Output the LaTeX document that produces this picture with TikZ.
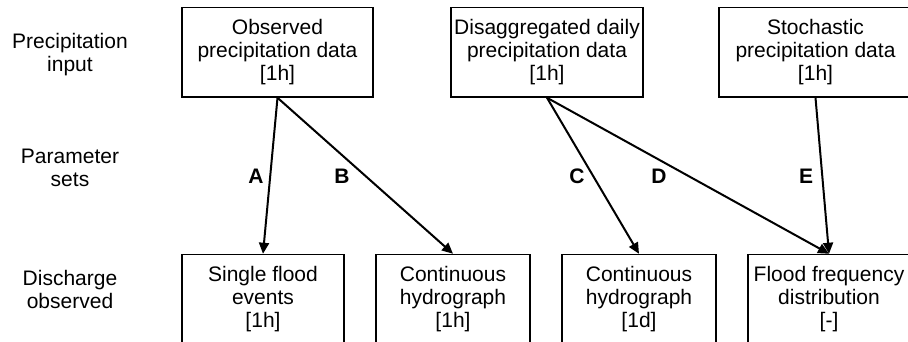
\documentclass[tikz,border=0pt]{standalone}
\usepackage{fontspec}
\setmainfont{Liberation Sans}
\usetikzlibrary{arrows.meta}
\begin{document}
\begin{tikzpicture}[x=1pt,y=-1pt,
  every node/.style={font=\fontsize{21}{23}\selectfont, align=center},
  box/.style={draw, line width=1.5pt, inner sep=0pt, minimum height=89.5pt},
  arr/.style={line width=2pt, -{Triangle[length=11pt,width=10pt]}},
  lab/.style={font=\fontsize{21}{23}\selectfont\bfseries}]
\useasboundingbox (0,0) rectangle (908,342);
\clip (0,0) rectangle (908,342);
% row labels
\node (r1) at (70,55) {Precipitation\\input};
\node (r2) at (70,168) {Parameter\\sets};
\node (r3) at (70,289) {Discharge\\observed};
% top boxes
\node[box, minimum width=191pt] (obs) at (277.5,52.25) {Observed\\precipitation data\\{[1h]}};
\node[box, minimum width=192pt] (dis) at (547,52.25) {Disaggregated daily\\precipitation data\\{[1h]}};
\node[box, minimum width=193pt] (sto) at (815.5,52.25) {Stochastic\\precipitation data\\{[1h]}};
% bottom boxes
\node[box, minimum width=162pt] (sfe) at (263,299.25) {Single flood\\events\\{[1h]}};
\node[box, minimum width=154pt] (ch1) at (453,299.25) {Continuous\\hydrograph\\{[1h]}};
\node[box, minimum width=154pt] (ch2) at (639,299.25) {Continuous\\hydrograph\\{[1d]}};
\node[box, minimum width=162pt] (ffd) at (829,299.25) {Flood frequency\\distribution\\{[-]}};
% arrows
\draw[arr] (obs.south) -- (sfe.north);
\draw[arr] (obs.south) -- (ch1.north);
\draw[arr] (dis.south) -- (ch2.north);
\draw[arr] (dis.south) -- (ffd.north);
\draw[arr] (sto.south) -- (ffd.north);
% parameter set labels
\node[lab] (la) at (256,176) {A};
\node[lab] (lb) at (342,176) {B};
\node[lab] (lc) at (577,176) {C};
\node[lab] (ld) at (659,176) {D};
\node[lab] (le) at (806,176) {E};
\end{tikzpicture}
\end{document}
